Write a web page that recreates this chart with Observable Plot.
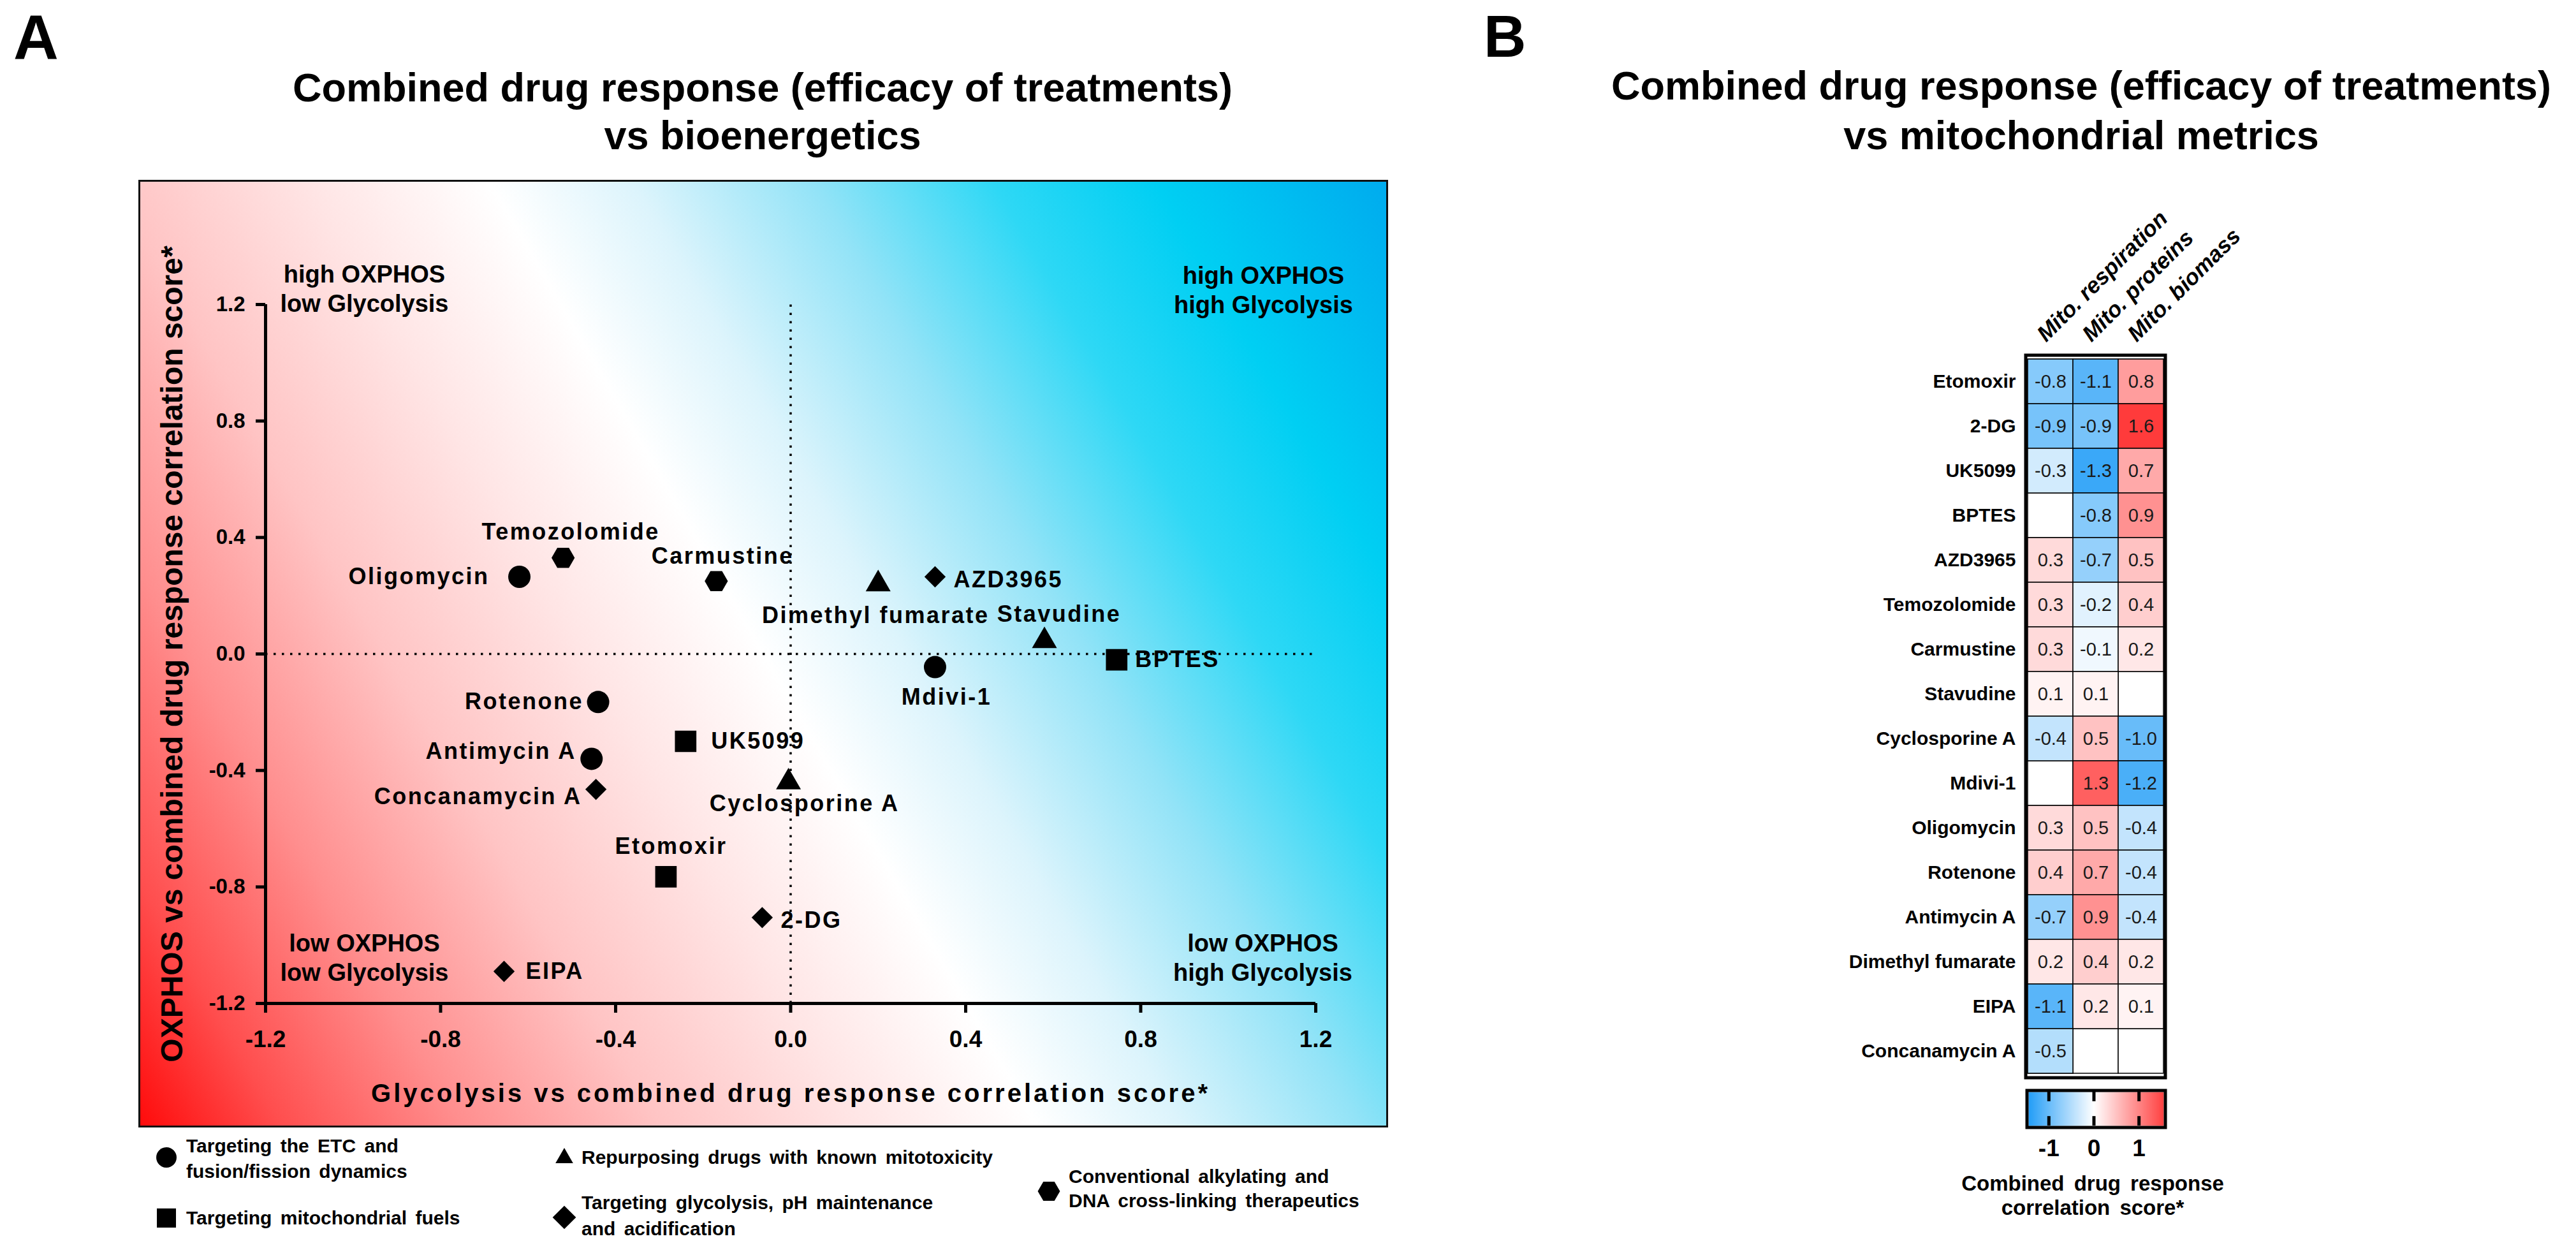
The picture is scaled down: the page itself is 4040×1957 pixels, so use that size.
<!DOCTYPE html>
<html><head><meta charset="utf-8">
<script src="https://cdn.jsdelivr.net/npm/d3@7"></script>
<script src="https://cdn.jsdelivr.net/npm/@observablehq/plot@0.6"></script>
<style>
html,body{margin:0;padding:0;background:#fff;}
#page{position:relative;width:4040px;height:1957px;overflow:hidden;font-family:"Liberation Sans",Arial,sans-serif;}
.abs{position:absolute;}
.abs svg{max-width:none;}
</style></head><body><div id="page"></div>
<script>
// ---------------- Panel A data ----------------
const drugs = ["Oligomycin","Temozolomide","Carmustine","Dimethyl fumarate","AZD3965","Stavudine","BPTES","Mdivi-1","Rotenone","UK5099","Antimycin A","Concanamycin A","Cyclosporine A","Etomoxir","2-DG","EIPA"];
const glycolysisScore = [-0.62,-0.52,-0.17,0.20,0.33,0.58,0.745,0.33,-0.44,-0.24,-0.455,-0.445,-0.005,-0.285,-0.065,-0.655];
const oxphosScore = [0.265,0.33,0.25,0.24,0.265,0.045,-0.02,-0.045,-0.165,-0.30,-0.36,-0.465,-0.44,-0.765,-0.905,-1.09];
const drugClass = ["etc","alkyl","alkyl","repurpose","glyco","repurpose","fuel","etc","etc","fuel","etc","glyco","repurpose","fuel","glyco","glyco"];
const axisTicks = [-1.2,-0.8,-0.4,0,0.4,0.8,1.2];
const classNames = ["etc","fuel","repurpose","glyco","alkyl"];
const legendLines = {
  etc: ["Targeting the ETC and","fusion/fission dynamics"],
  fuel: ["Targeting mitochondrial fuels"],
  repurpose: ["Repurposing drugs with known mitotoxicity"],
  glyco: ["Targeting glycolysis, pH maintenance","and acidification"],
  alkyl: ["Conventional alkylating and","DNA cross-linking therapeutics"]
};
const quadrantLabels = ["high OXPHOS\nlow Glycolysis","high OXPHOS\nhigh Glycolysis","low OXPHOS\nlow Glycolysis","low OXPHOS\nhigh Glycolysis"];
const xTitle = "Glycolysis vs combined drug response correlation score*";
const yTitle = "OXPHOS vs combined drug response correlation score*";

// ---------------- Panel B data ----------------
const drugsB = ["Etomoxir","2-DG","UK5099","BPTES","AZD3965","Temozolomide","Carmustine","Stavudine","Cyclosporine A","Mdivi-1","Oligomycin","Rotenone","Antimycin A","Dimethyl fumarate","EIPA","Concanamycin A"];
const metrics = ["Mito. respiration","Mito. proteins","Mito. biomass"];
const respiration = [-0.8,-0.9,-0.3,null,0.3,0.3,0.3,0.1,-0.4,null,0.3,0.4,-0.7,0.2,-1.1,-0.5];
const proteins    = [-1.1,-0.9,-1.3,-0.8,-0.7,-0.2,-0.1,0.1,0.5,1.3,0.5,0.7,0.9,0.4,0.2,null];
const biomass     = [0.8,1.6,0.7,0.9,0.5,0.4,0.2,null,-1.0,-1.2,-0.4,-0.4,-0.4,0.2,0.1,null];
const colorbarTicks = [-1,0,1];

// ---------------- build tables ----------------
const points = drugs.map((name,i)=>({name, x: glycolysisScore[i], y: oxphosScore[i], cls: drugClass[i]}));
const metricValues = [respiration, proteins, biomass];
const heat = [];
drugsB.forEach((drug,i)=>metrics.forEach((metric,j)=>heat.push({drug, metric, value: metricValues[j][i]})));

// ---------------- styles ----------------
const FONT = "Liberation Sans, Arial, Helvetica, sans-serif";
const hexagonFlat = {draw(ctx, size){ const s = Math.sqrt(size/(1.5*Math.sqrt(3))); for(let k=0;k<6;k++){const a=k*Math.PI/3; const px=s*Math.cos(a), py=s*Math.sin(a); k?ctx.lineTo(px,py):ctx.moveTo(px,py);} ctx.closePath(); }};
const classSymbol = {etc: d3.symbolCircle, fuel: d3.symbolSquare, repurpose: d3.symbolTriangle, glyco: d3.symbolDiamond2, alkyl: hexagonFlat};
const classR = {etc:17.5, fuel:19, repurpose:14.5, glyco:15, alkyl:16.5};
const legendSize = {etc:800, fuel:900, repurpose:330, glyco:860, alkyl:790};
const labelPlacement = {
  "Oligomycin": ["end",-47,0],
  "Temozolomide": ["middle",12,-40],
  "Carmustine": ["middle",10,-39],
  "Dimethyl fumarate": ["middle",-4,50],
  "AZD3965": ["start",29,5],
  "Stavudine": ["middle",23,-41],
  "BPTES": ["start",29,0],
  "Mdivi-1": ["middle",18,47],
  "Rotenone": ["end",-23,0],
  "UK5099": ["start",40,0],
  "Antimycin A": ["end",-24,-11],
  "Concanamycin A": ["end",-22,12],
  "Cyclosporine A": ["middle",25,34],
  "Etomoxir": ["middle",8,-47],
  "2-DG": ["start",29,5],
  "EIPA": ["start",34,0]
};
const quadrantPlacement = [["top-left",155,11],["top-right",-82,13],["bottom-left",155,-36],["bottom-right",-83,-36]];

const page = document.getElementById("page");
function place(node, left, top, width){ const d=document.createElement("div"); d.className="abs"; d.style.left=left+"px"; d.style.top=top+"px"; if(width) d.style.width=width+"px"; d.appendChild(node); page.appendChild(d); }

// ---------------- overlay text (titles, legend) ----------------
const overlay = d3.create("svg").attr("width",4040).attr("height",1957).style("position","absolute").style("left","0").style("top","0").attr("font-family",FONT);
function txt(x,y,s,size,anchor="start",weight="bold",extra={}){ const t=overlay.append("text").attr("x",x).attr("y",y).attr("font-size",size).attr("font-weight",weight).attr("text-anchor",anchor).attr("fill","#000").text(s); for(const k in extra) t.style(k,extra[k]); return t; }
txt(21,92,"A",98);
txt(2327,89,"B",92);
txt(1196,159,"Combined drug response (efficacy of treatments)",63,"middle");
txt(1196,234,"vs bioenergetics",63,"middle");
txt(3264,156,"Combined drug response (efficacy of treatments)",63,"middle");
txt(3264,234,"vs mitochondrial metrics",63,"middle");
txt(3282,1867,"Combined drug response",33,"middle","bold",{"word-spacing":"6px"});
txt(3282,1905,"correlation score*",33,"middle","bold",{"word-spacing":"6px"});
const legendPos = {etc:[261,1815,292,[1807,1847]], fuel:[261,1910,292,[1920]], repurpose:[885,1816,912,[1825]], glyco:[885,1909,912,[1896,1937]], alkyl:[1645,1868,1676,[1855,1893]]};
classNames.forEach(c=>{
  const [sx,sy,tx,ys] = legendPos[c];
  overlay.append("path").attr("transform",`translate(${sx},${sy})`).attr("d", d3.symbol().type(classSymbol[c]).size(legendSize[c])()).attr("fill","#000");
  legendLines[c].forEach((line,i)=>txt(tx,ys[i],line,30,"start","bold",{"word-spacing":"5px"}));
});
page.appendChild(overlay.node());

// ---------------- Panel A plot ----------------
const gradientMark = (index, scales, values, dims) => {
  const g = d3.create("svg:g");
  const W = dims.width, H = dims.height;
  const gx = 0.865, gy = -0.502;
  const pmin = -746, pmax = 1695;
  const grad = g.append("defs").append("linearGradient").attr("id","bgGradA").attr("gradientUnits","userSpaceOnUse")
    .attr("x1",pmin*gx).attr("y1",pmin*gy).attr("x2",pmax*gx).attr("y2",pmax*gy);
  [[0,"#FF0A0A"],[0.08,"#FF4E4E"],[0.18,"#FF8E8E"],[0.29,"#FFC4C4"],[0.40,"#FFE5E5"],[0.50,"#FFFFFF"],[0.58,"#DCF4FC"],[0.68,"#92E3F7"],[0.78,"#2ED8F5"],[0.87,"#00CFF3"],[1,"#00ABEE"]]
    .forEach(([o,c])=>grad.append("stop").attr("offset",o).attr("stop-color",c));
  g.append("rect").attr("x",0).attr("y",0).attr("width",W).attr("height",H).attr("fill","url(#bgGradA)");
  g.append("rect").attr("x",1.5).attr("y",1.5).attr("width",W-3).attr("height",H-3).attr("fill","none").attr("stroke","#111").attr("stroke-width",3);
  return g.node();
};

const dotMarks = classNames.map(c => Plot.dot(points, {x:"x", y:"y", filter: d=>d.cls===c, symbol: classSymbol[c], r: classR[c], fill:"#000", stroke:"none"}));
const labelMarks = drugs.map(name => { const [anchor,dx,dy] = labelPlacement[name]; return Plot.text(points, {x:"x", y:"y", text:"name", filter: d=>d.name===name, textAnchor: anchor, dx, dy, lineAnchor:"middle", fontSize:36, fontWeight:"bold", fill:"#000"}); });
const quadMarks = quadrantLabels.map((q,i)=>{ const [fa,dx,dy]=quadrantPlacement[i]; return Plot.text([q], {frameAnchor: fa, text: d=>d, textAnchor:"middle", lineAnchor:"bottom", lineHeight:1.21, dx, dy, fontSize:38, fontWeight:"bold", fill:"#000"}); });

const plotA = Plot.plot({
  width:1960, height:1486,
  marginLeft:199, marginRight:114, marginTop:195, marginBottom:195,
  x:{domain:[-1.2,1.2]}, y:{domain:[-1.2,1.2]},
  style:{fontFamily:FONT, background:"transparent", overflow:"visible", maxWidth:"none"},
  marks:[
    gradientMark,
    Plot.ruleY([0], {x1:-1.2, x2:1.2, stroke:"#000", strokeWidth:3.5, strokeDasharray:"3.5,9.5"}),
    Plot.ruleX([0], {y1:-1.2, y2:1.2, stroke:"#000", strokeWidth:3.5, strokeDasharray:"3.5,9.5"}),
    Plot.ruleX([-1.2], {y1:-1.2, y2:1.2, stroke:"#000", strokeWidth:5}),
    Plot.ruleY([-1.2], {x1:-1.2, x2:1.2, stroke:"#000", strokeWidth:5}),
    Plot.axisX(axisTicks, {tickSize:15, tickPadding:27, strokeWidth:5, fontSize:37, fontWeight:"bold", fill:"#000", tickFormat: d=>d.toFixed(1), label:null}),
    Plot.axisY(axisTicks, {tickSize:15, tickPadding:17, strokeWidth:5, fontSize:33, fontWeight:"bold", fill:"#000", tickFormat: d=>d.toFixed(1), label:null}),
    Plot.text([xTitle], {frameAnchor:"bottom", text:d=>d, textAnchor:"middle", lineAnchor:"bottom", dy:154, fontSize:40, fontWeight:"bold", fill:"#000"}),
    Plot.text([yTitle], {frameAnchor:"left", text:d=>d, rotate:-90, textAnchor:"middle", lineAnchor:"bottom", dx:-131, fontSize:48, fontWeight:"bold", fill:"#000"}),
    ...quadMarks,
    ...dotMarks,
    ...labelMarks
  ]
});
d3.select(plotA).selectAll("text").filter(function(){ return drugs.includes(this.textContent); }).style("letter-spacing","2.5px");
d3.select(plotA).selectAll("text").filter(function(){ return this.textContent === xTitle; }).style("letter-spacing","4px");
place(plotA, 217, 282, 1960);

// ---------------- Panel B heatmap ----------------
const colorOpts = {type:"linear", domain:[-1.6,0,1.6], range:["#0D94F6","#FFFFFF","#FF3B3B"], interpolate:"rgb"};
const plotB = Plot.plot({
  width:600, height:1307,
  marginLeft:279, marginRight:107, marginTop:159, marginBottom:20,
  x:{domain:metrics, padding:0, axis:null},
  y:{domain:drugsB, padding:0, axis:null},
  color:colorOpts,
  style:{fontFamily:FONT, background:"transparent", overflow:"visible", maxWidth:"none"},
  marks:[
    Plot.cell(heat, {x:"metric", y:"drug", fill:"#FFFFFF", stroke:"#000", strokeWidth:1.5}),
    Plot.cell(heat, {x:"metric", y:"drug", filter:d=>d.value!=null, fill:"value", stroke:"#000", strokeWidth:1.5}),
    Plot.text(heat, {x:"metric", y:"drug", filter:d=>d.value!=null, text:d=>d.value==null?null:d.value.toFixed(1), fontSize:29, fill:"#1a1a1a"}),
    Plot.frame({stroke:"#000", strokeWidth:5, inset:-2.5}),
    Plot.axisY({tickSize:0, tickPadding:18, fontSize:30, fontWeight:"bold", fill:"#000", label:null}),
    Plot.text(metrics, {x:d=>d, frameAnchor:"top", text:d=>d, rotate:-45, textAnchor:"start", lineAnchor:"bottom", dx:-7, dy:-22, fontSize:35, fontWeight:"bold", fontStyle:"italic", fill:"#000"})
  ]
});
place(plotB, 2900, 400, 600);

// ---------------- Panel B colour bar ----------------
const plotC = Plot.plot({
  width:600, height:135,
  marginLeft:281, marginRight:107, marginTop:22, marginBottom:60,
  x:{domain:[-1.45,1.55], axis:null},
  y:{domain:[0,1], axis:null},
  color:colorOpts,
  style:{fontFamily:FONT, background:"transparent", overflow:"visible", maxWidth:"none"},
  marks:[
    Plot.raster({fill:(x,y)=>x, x1:-1.45, x2:1.55, y1:0, y2:1}),
    Plot.ruleX(colorbarTicks, {y1:1, y2:0.72, stroke:"#000", strokeWidth:5}),
    Plot.ruleX(colorbarTicks, {y1:0, y2:0.28, stroke:"#000", strokeWidth:5}),
    Plot.frame({stroke:"#000", strokeWidth:5, inset:-2.5}),
    Plot.axisX(colorbarTicks, {tickSize:0, tickPadding:21, fontSize:37, fontWeight:"bold", fill:"#000", tickFormat:d=>String(d), label:null})
  ]
});
place(plotC, 2900, 1690, 600);
</script></body></html>
